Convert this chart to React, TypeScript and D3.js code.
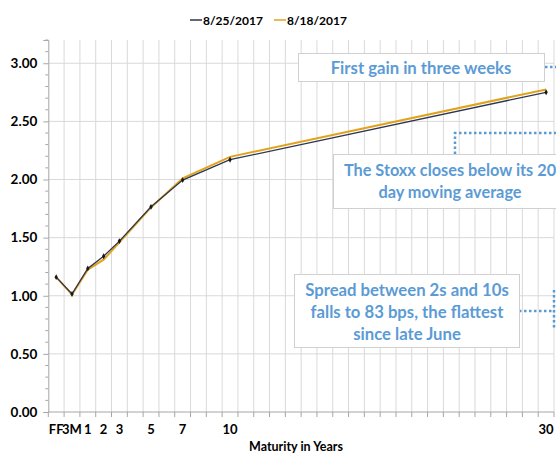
import * as d3 from "d3";
import { useEffect, useRef } from "react";

// x categories (Excel-style category axis, blank = unlabeled slot)
const categories = [
  "FF", "3M", "1", "2", "3", "", "5", "", "7", "", "", "10",
  "", "", "", "", "", "", "", "", "", "", "", "", "", "", "", "", "", "", "", "30",
];
const maturities = ["FF", "3M", "1", "2", "3", "5", "7", "10", "30"];
const yields0825 = [1.16, 1.015, 1.235, 1.34, 1.47, 1.765, 1.995, 2.17, 2.75];
const yields0818 = [1.16, 1.01, 1.225, 1.31, 1.46, 1.76, 2.01, 2.195, 2.775];
const yTicks = [0, 0.5, 1, 1.5, 2, 2.5, 3];
const seriesNames = ["8/25/2017", "8/18/2017"];

const FONT = "Lato, 'Open Sans', sans-serif";
const NAVY = "#2b3650";
const GOLD = "#e2a31c";
const BLUE = "#5b9bd5";

const App = () => {
  const svgRef = useRef<SVGSVGElement>(null);
  const width = 556;
  const height = 454;

  useEffect(() => {
    const svg = d3.select(svgRef.current);
    svg.selectAll("*").remove();

    const left = 48.3, right = 554, top = 40, bottom = 412;
    const x = d3.scaleBand<number>().domain(d3.range(categories.length)).range([left, right]).padding(0);
    const y = d3.scaleLinear().domain([0, 3.2]).range([bottom, top]);
    const xPos = (m: string) => x(categories.indexOf(m))! + x.bandwidth() / 2;

    // gridlines
    const grid = svg.append("g");
    grid.selectAll(".vg").data(d3.range(1, categories.length + 1)).join("line")
      .attr("x1", i => left + i * x.bandwidth()).attr("x2", i => left + i * x.bandwidth())
      .attr("y1", top).attr("y2", bottom).attr("stroke", "#d9d9d9").attr("stroke-width", 1);
    grid.selectAll(".hg").data(yTicks.slice(1)).join("line")
      .attr("x1", left).attr("x2", right).attr("y1", d => y(d)).attr("y2", d => y(d))
      .attr("stroke", "#d9d9d9").attr("stroke-width", 1);

    // y axis
    const yAxis = d3.axisLeft(y).tickValues(yTicks).tickFormat(d3.format(".2f")).tickSize(5).tickPadding(6);
    const ya = svg.append("g").attr("transform", `translate(${left},0)`).call(yAxis);
    ya.select(".domain").attr("stroke", "#a6a6a6");
    ya.selectAll(".tick line").attr("stroke", "#a6a6a6");
    ya.selectAll(".tick text").attr("font-family", FONT).attr("font-weight", "bold")
      .attr("font-size", 13.5).attr("fill", "#000");
    const minor = d3.range(0, 33).map(v => v / 10).filter(v => Math.round(v * 10) % 5 !== 0);
    svg.append("g").selectAll("line").data(minor).join("line")
      .attr("x1", left - 3).attr("x2", left).attr("y1", d => y(d)).attr("y2", d => y(d))
      .attr("stroke", "#a6a6a6");

    // x axis
    const xa = svg.append("g").attr("transform", `translate(0,${bottom})`);
    xa.append("line").attr("x1", left).attr("x2", right).attr("stroke", "#a6a6a6");
    xa.selectAll(".xt").data(d3.range(0, categories.length + 1)).join("line")
      .attr("x1", i => left + i * x.bandwidth()).attr("x2", i => left + i * x.bandwidth())
      .attr("y1", 0).attr("y2", 5).attr("stroke", "#a6a6a6");
    xa.selectAll("text").data(categories.map((c, i) => ({ c, i })).filter(d => d.c)).join("text")
      .attr("x", d => x(d.i)! + x.bandwidth() / 2).attr("y", 22)
      .attr("text-anchor", "middle").attr("font-family", FONT).attr("font-weight", "bold")
      .attr("font-size", 13).attr("fill", "#000").text(d => d.c);

    svg.append("text").attr("x", 296).attr("y", 451).attr("text-anchor", "middle")
      .attr("font-family", FONT).attr("font-weight", "bold").attr("font-size", 12.5)
      .text("Maturity in Years");

    // lines
    const line = d3.line<number>().x((d, i) => xPos(maturities[i])).y(d => y(d));
    svg.append("path").attr("d", line(yields0818)).attr("fill", "none").attr("stroke", GOLD).attr("stroke-width", 2);
    svg.append("path").attr("d", line(yields0825)).attr("fill", "none").attr("stroke", NAVY).attr("stroke-width", 1.3);
    svg.append("g").selectAll("path").data(yields0825).join("path")
      .attr("d", d3.symbol(d3.symbolDiamond, 10)())
      .attr("transform", (d, i) => `translate(${xPos(maturities[i])},${y(d)})`)
      .attr("fill", "#1a1a1a");

    // legend
    const lg = svg.append("g").attr("font-family", FONT).attr("font-weight", "bold").attr("font-size", 12);
    const legendItems = [{ name: seriesNames[0], color: NAVY, x: 190 }, { name: seriesNames[1], color: GOLD, x: 274 }];
    legendItems.forEach(it => {
      lg.append("line").attr("x1", it.x).attr("x2", it.x + 12).attr("y1", 20).attr("y2", 20)
        .attr("stroke", it.color).attr("stroke-width", 1.5);
      lg.append("text").attr("x", it.x + 13).attr("y", 24.5).text(it.name);
    });

    // annotations
    const ann = svg.append("g");
    const dotted = (pts: [number, number][]) =>
      ann.append("path").attr("d", d3.line()(pts)).attr("fill", "none").attr("stroke", BLUE)
        .attr("stroke-width", 2.5).attr("stroke-dasharray", "2.5,2.5");
    const box = (bx: number, by: number, bw: number, bh: number, lines: string[], cx: number, ys: number[], fs = 16.7) => {
      ann.append("rect").attr("x", bx).attr("y", by).attr("width", bw).attr("height", bh)
        .attr("fill", "#fff").attr("stroke", "#d0d0d0").attr("stroke-width", 1);
      lines.forEach((t, k) => ann.append("text").attr("x", cx).attr("y", ys[k]).attr("text-anchor", "middle")
        .attr("font-family", FONT).attr("font-weight", "bold").attr("font-size", fs).attr("fill", BLUE).text(t));
    };
    dotted([[545, 67], [558, 67]]);
    box(298.5, 53.5, 246, 28, ["First gain in three weeks"], 421, [73.5]);
    dotted([[455, 154], [455, 133], [558, 133]]);
    box(333.5, 154.5, 250, 54, ["The Stoxx closes below its 20", "day moving average"], 450, [175.5, 198], 16.3);
    dotted([[519, 311], [554, 311]]);
    dotted([[554, 290], [554, 330]]);
    box(294.5, 274.5, 225, 73, ["Spread between 2s and 10s", "falls to 83 bps, the flattest", "since late June"], 407, [295.5, 317.5, 339.5]);
  }, []);

  return (
    <svg ref={svgRef} width={width} height={height}
      style={{ position: "absolute", left: 0, top: 0, background: "#fff" }} />
  );
};

export default App;
